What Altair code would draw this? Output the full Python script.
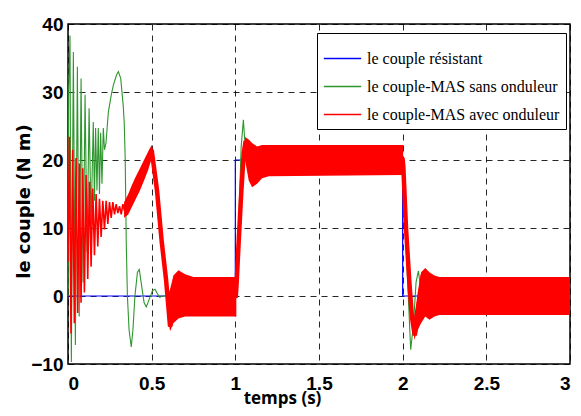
import altair as alt
import pandas as pd

S_BLUE = "le couple résistant"
S_GREEN = "le couple-MAS sans onduleur"
S_RED = "le couple-MAS avec onduleur"

x_ticks = [0, 0.5, 1, 1.5, 2, 2.5, 3]
y_ticks = [-10, 0, 10, 20, 30, 40]

# load torque (blue)
blue_t = [0.0, 1.0, 1.0, 2.0, 2.0, 3.0]
blue_v = [0.0, 0.0, 20.0, 20.0, 0.0, 0.0]

# motor torque without inverter (green)
green_t = [0.000, 0.004, 0.012, 0.020, 0.032, 0.044, 0.056, 0.067, 0.078, 0.090,
           0.102, 0.114, 0.126, 0.138, 0.151, 0.158, 0.165, 0.173, 0.181, 0.188,
           0.195, 0.203, 0.211, 0.218, 0.227, 0.241, 0.258, 0.271, 0.290, 0.301,
           0.315, 0.330, 0.336, 0.342, 0.348, 0.355, 0.365, 0.378, 0.388, 0.400,
           0.415, 0.426, 0.440, 0.455, 0.468, 0.485, 0.505, 0.520, 0.535, 0.548,
           0.565, 1.000, 1.005, 1.020, 1.035, 1.048, 1.060, 1.075, 1.090, 1.110,
           2.000, 2.004, 2.030, 2.048, 2.065, 2.080, 2.094, 2.114, 3.000]
green_v = [0.0, 30.0, 38.3, -9.7, 35.9, -7.2, 33.7, -3.0, 32.0, 2.0,
           29.6, 6.5, 27.6, 10.5, 25.6, 14.0, 24.7, 15.5, 24.7, 15.0,
           24.0, 16.5, 24.7, 21.5, 22.5, 27.0, 29.5, 31.0, 32.5, 33.0,
           32.0, 28.0, 25.5, 20.0, 8.0, 0.0, -5.0, -7.5, -5.0, 0.0,
           3.5, 3.9, 1.5, -1.0, -1.6, -0.5, 0.8, 1.0, 0.3, -0.2,
           0.0, 0.0, 0.5, 11.0, 22.0, 25.9, 21.5, 19.0, 20.5, 20.0,
           20.0, 19.0, 2.0, -7.9, -4.0, 2.0, 3.7, 0.0, 0.0]

# motor torque with inverter (red): start-up oscillations
red_zig_t = [0.000, 0.008, 0.018, 0.028, 0.038, 0.048, 0.058, 0.068, 0.078, 0.088,
             0.098, 0.108, 0.118, 0.128, 0.138, 0.148, 0.158, 0.168, 0.178, 0.188,
             0.198, 0.208, 0.218, 0.228, 0.238, 0.248, 0.258, 0.268, 0.278, 0.288,
             0.298, 0.308, 0.318, 0.328, 0.338]
red_zig_v = [5.0, 23.4, -5.5, 21.5, -4.0, 20.3, -2.5, 19.5, -1.0, 18.8,
             0.5, 17.8, 2.5, 16.8, 4.3, 15.8, 6.0, 15.0, 7.3, 14.3,
             8.7, 14.0, 9.8, 14.0, 10.6, 13.8, 11.5, 13.8, 12.0, 13.5,
             12.2, 13.2, 12.0, 13.5, 12.5]

# red: mean path through the transients
red_path_t = [0.338, 0.36, 0.40, 0.45, 0.48, 0.50, 0.532, 0.56, 0.586, 0.61, 0.625,
              1.003, 1.008, 1.020, 1.035, 1.050, 1.062, 1.08,
              2.000, 2.004, 2.020, 2.040, 2.055, 2.072, 2.085, 2.100, 2.120, 2.134]
red_path_v = [12.8, 13.5, 15.7, 18.0, 19.8, 21.5, 15.5, 8.0, 2.4, -4.5, -2.0,
              0.0, 2.0, 8.0, 15.0, 21.0, 22.8, 20.0,
              20.0, 19.0, 10.0, 2.0, -3.0, -5.8, -4.0, 0.0, 3.0, 3.5]

# red: switching-ripple envelopes
band_seg = [1] * 9 + [2] * 8 + [3] * 7 + [4] * 8
band_t = [0.335, 0.36, 0.38, 0.40, 0.43, 0.46, 0.48, 0.50, 0.505,
          0.595, 0.61, 0.63, 0.66, 0.70, 0.75, 1.00, 1.006,
          1.058, 1.08, 1.10, 1.13, 1.16, 1.20, 2.003,
          2.068, 2.09, 2.11, 2.135, 2.16, 2.19, 2.22, 3.0]
band_lo = [11.5, 12.0, 13.0, 14.0, 15.5, 17.3, 18.6, 20.3, 20.8,
           -3.0, -5.2, -4.0, -3.3, -3.0, -3.0, -3.0, -3.0,
           20.0, 17.0, 16.0, 16.5, 17.3, 17.6, 17.8,
           -6.5, -5.0, -4.0, -3.0, -3.5, -3.0, -2.8, -2.8]
band_hi = [13.8, 15.0, 16.2, 17.3, 18.8, 20.3, 21.3, 22.2, 21.8,
           0.0, 1.0, 3.0, 3.8, 3.2, 2.8, 2.8, 2.8,
           23.4, 23.0, 22.5, 22.0, 22.2, 22.2, 22.2,
           -3.0, 0.0, 3.5, 4.1, 3.5, 3.0, 2.8, 2.8]

df_blue = pd.DataFrame({"t": blue_t, "v": blue_v, "s": S_BLUE})
df_green = pd.DataFrame({"t": green_t, "v": green_v, "s": S_GREEN})
df_red = pd.DataFrame({"t": red_zig_t, "v": red_zig_v, "s": S_RED})
df_path = pd.DataFrame({"t": red_path_t, "v": red_path_v})
df_band = pd.DataFrame({"seg": band_seg, "t": band_t, "lo": band_lo, "hi": band_hi})

tick_font = "Liberation Sans Narrow, Liberation Sans, Arial"

xs = alt.Scale(domain=[0, 3], nice=False, zero=False)
ys = alt.Scale(domain=[-10, 40], nice=False, zero=False)

x_axis = alt.Axis(values=x_ticks, format="~g", title="temps (s)", grid=True,
                  ticks=False, domain=False, labelPadding=10,
                  labelFont=tick_font, labelFontSize=19, labelFontWeight="bold",
                  labelColor="black", titleFont="Open Sans", titleFontSize=17,
                  titleFontWeight="bold", titleColor="black", titleX=214, titleY=34,
                  titleBaseline="middle", titleAlign="center")
y_axis = alt.Axis(values=y_ticks, format="~g", title="le couple (N m)", grid=True,
                  ticks=False, domain=False, labelPadding=5,
                  labelFont=tick_font, labelFontSize=19, labelFontWeight="bold",
                  labelColor="black", titleFont="DejaVu Sans", titleFontSize=18,
                  titleFontWeight="bold", titleColor="black", titleX=-44, titleY=177,
                  titleBaseline="middle", titleAlign="center")

color = alt.Color("s:N",
                  scale=alt.Scale(domain=[S_BLUE, S_GREEN, S_RED],
                                  range=["#0000ff", "#2e962e", "#ff0000"]),
                  legend=alt.Legend(title=None, orient="none", legendX=249, legendY=9,
                                    symbolType="stroke", symbolSize=1400,
                                    symbolStrokeWidth=1.5, labelFont="Liberation Serif",
                                    labelFontSize=16, labelColor="black",
                                    strokeColor="black", fillColor="white",
                                    padding=6, rowPadding=-6, labelOffset=5,
                                    labelLimit=400))

base_x = alt.X("t:Q", scale=xs, axis=x_axis)
base_y = alt.Y("v:Q", scale=ys, axis=y_axis)

blue = alt.Chart(df_blue).mark_line(strokeWidth=1.2).encode(
    x=base_x, y=base_y, color=color, order="t_idx:Q"
).transform_window(t_idx="row_number()")
green = alt.Chart(df_green).mark_line(strokeWidth=1.1).encode(
    x=base_x, y=base_y, color=color, order="t_idx:Q"
).transform_window(t_idx="row_number()")
red_zig = alt.Chart(df_red).mark_line(strokeWidth=1.6).encode(
    x=base_x, y=base_y, color=color, order="t_idx:Q"
).transform_window(t_idx="row_number()")
band = alt.Chart(df_band).mark_area(color="#ff0000", opacity=1).encode(
    x=alt.X("t:Q", scale=xs), y=alt.Y("lo:Q", scale=ys), y2="hi:Q", detail="seg:N"
)
path = alt.Chart(df_path).mark_line(color="#ff0000", strokeWidth=4.5).encode(
    x=alt.X("t:Q", scale=xs), y=alt.Y("v:Q", scale=ys), order="t_idx:Q"
).transform_window(t_idx="row_number()")

chart = alt.layer(blue, green, red_zig, band, path).properties(
    width=502, height=340,
    autosize=alt.AutoSizeParams(type="none"),
    padding={"left": 60, "top": 16, "right": 3, "bottom": 50},
).configure_view(stroke="black", strokeWidth=1.5).configure_axis(
    gridColor="black", gridDash=[6, 5], gridWidth=1, gridOpacity=0.85
)

chart.save("out.html", embed_options={"renderer": "svg", "actions": False})
